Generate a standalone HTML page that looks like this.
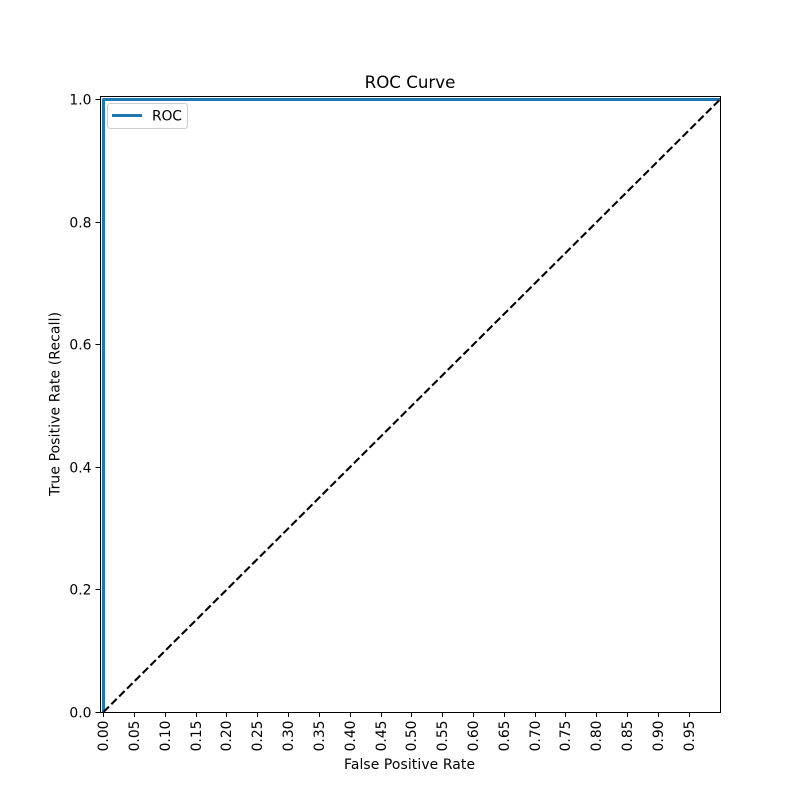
<!DOCTYPE html>
<html>
<head>
<meta charset="utf-8">
<title>ROC Curve</title>
<style>
html,body{margin:0;padding:0;background:#fff;}
svg{display:block;}
text{font-family:"DejaVu Sans","Liberation Sans",sans-serif;fill:#000;}
</style>
</head>
<body>
<svg id="chart" xmlns="http://www.w3.org/2000/svg" width="800" height="800" viewBox="0 0 800 800"></svg>
<script>
const rocFpr = [0, 0, 1];
const rocTpr = [0, 1, 1];
const chanceFpr = [0, 1];
const chanceTpr = [0, 1];
const xTickLabels = ['0.00','0.05','0.10','0.15','0.20','0.25','0.30','0.35','0.40','0.45','0.50','0.55','0.60','0.65','0.70','0.75','0.80','0.85','0.90','0.95'];
const yTickLabels = ['0.0','0.2','0.4','0.6','0.8','1.0'];
const titleText = 'ROC Curve';
const xAxisText = 'False Positive Rate';
const yAxisText = 'True Positive Rate (Recall)';
const legendText = 'ROC';

const NS = 'http://www.w3.org/2000/svg';
const svg = document.getElementById('chart');
const L = 100, R = 720, T = 96, B = 712;
const xMin = -0.0057, xMax = 1, yMin = 0, yMax = 1.0057;
function xs(v){ return L + (v - xMin) / (xMax - xMin) * (R - L); }
function ys(v){ return B - (v - yMin) / (yMax - yMin) * (B - T); }
function snap(p){ return Math.floor(p + 0.1) + 0.5; }
function make(tag, attrs, parent){
  const el = document.createElementNS(NS, tag);
  for (const k in attrs) el.setAttribute(k, attrs[k]);
  (parent || svg).appendChild(el);
  return el;
}
function pts(a, b){ return a.map((v, i) => xs(v).toFixed(2) + ',' + ys(b[i]).toFixed(2)).join(' '); }

const bg = make('rect', {x: L, y: T, width: R - L, height: B - T, fill: '#fff'});



const roc = make('polyline', {points: pts(rocFpr, rocTpr), fill: 'none', stroke: '#1f77b4', 'stroke-width': 3, 'stroke-linejoin': 'round'});



const chance = make('polyline', {points: pts(chanceFpr, chanceTpr), fill: 'none', stroke: '#000', 'stroke-width': 2.08, 'stroke-dasharray': '7.7 3.33'});



const spine = make('rect', {x: L + 0.5, y: T + 0.5, width: R - L, height: B - T, fill: 'none', stroke: '#000', 'stroke-width': 1});



xTickLabels.forEach(function(label){
  const x = snap(xs(parseFloat(label)));
  const tick = make('line', {x1: x, x2: x, y1: B + 0.5, y2: B + 5, stroke: '#000', 'stroke-width': 1});
  
  
  const t = make('text', {transform: 'translate(' + (x + 4.5).toFixed(2) + ',' + (B + 8.5) + ') rotate(-90)', 'font-size': 13.89, 'text-anchor': 'end'});
  t.textContent = label;
  
  
});

yTickLabels.forEach(function(label){
  const y = snap(ys(parseFloat(label)));
  const tick = make('line', {x1: L + 0.5, x2: L - 4.5, y1: y, y2: y, stroke: '#000', 'stroke-width': 1});
  
  
  const t = make('text', {x: L - 8.5, y: y + 5, 'font-size': 13.89, 'text-anchor': 'end'});
  t.textContent = label;
  
  
});

const title = make('text', {x: 410, y: 88, 'font-size': 16.67, 'text-anchor': 'middle'});
title.textContent = titleText;



const xTitle = make('text', {x: 409.5, y: 769, 'font-size': 13.89, 'text-anchor': 'middle', textLength: 131, lengthAdjust: 'spacing'});
xTitle.textContent = xAxisText;



const yTitle = make('text', {transform: 'translate(59.5,404) rotate(-90)', 'font-size': 13.89, 'text-anchor': 'middle', textLength: 184, lengthAdjust: 'spacing'});
yTitle.textContent = yAxisText;



const legend = make('g', {});


const box = make('rect', {x: 107.5, y: 103.5, width: 80, height: 25, rx: 2.8, fill: '#fff', 'fill-opacity': 0.8, stroke: '#ccc', 'stroke-width': 1}, legend);


const swatch = make('line', {x1: 112, x2: 142, y1: 115.5, y2: 115.5, stroke: '#1f77b4', 'stroke-width': 3}, legend);


const legendLabel = make('text', {x: 152, y: 120.5, 'font-size': 13.89, textLength: 30, lengthAdjust: 'spacing'}, legend);
legendLabel.textContent = legendText;


</script>
</body>
</html>
